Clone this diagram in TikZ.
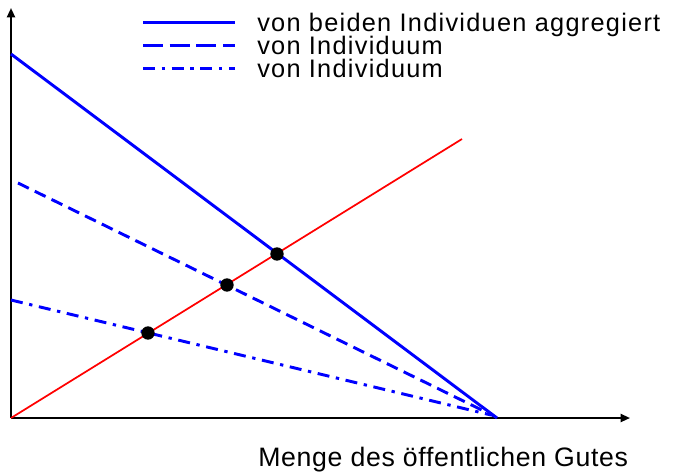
\documentclass[tikz,border=0pt]{standalone}
\usepackage{fontspec}
\setmainfont{Liberation Sans}
\newfontfamily\legfont[LetterSpace=5]{Liberation Sans}
\newfontfamily\axfont[LetterSpace=2.5]{Liberation Sans}
\usetikzlibrary{arrows.meta}
\tikzset{ax/.style={line width=1.5pt,-{Triangle[length=7pt,width=6pt]}},tot/.style={blue,line width=2.2pt},ind/.style={blue,line width=2.2pt,dash pattern=on 9pt off 5pt},indl/.style={ind,dash pattern=on 15pt off 5pt},indb/.style={blue,line width=2.2pt,dash pattern=on 9pt off 5pt on 2.5pt off 5pt},cost/.style={red,line width=1.3pt},pt/.style={circle,fill=black,inner sep=0pt,minimum size=10pt},leg/.style={anchor=base west,inner sep=0pt,font=\legfont\fontsize{19}{21}\selectfont}}

\begin{document}
\begin{tikzpicture}[x=0.75pt,y=-0.75pt]
\useasboundingbox(0,0)rectangle(673,472);
% Achsen
\coordinate(O)at(11,418);\coordinate(Y)at(11,8);\coordinate(X)at(630,418);
\draw[ax](O)--(Y);\draw[ax](O)--(X);
\node[anchor=base west,inner sep=0pt,font=\axfont\fontsize{20}{22}\selectfont](xl)at(258,466){Menge des öffentlichen Gutes};
% Kurven
\coordinate(T1)at(11,54);\coordinate(T2)at(497,418);
\coordinate(A1)at(18,183);\coordinate(A2)at(494,416);
\coordinate(B1)at(11,300);\coordinate(B2)at(491,415);
\coordinate(K)at(462,139);
\draw[cost](O)--(K);
\draw[tot](T1)--(T2);\draw[ind](A1)--(A2);\draw[indb](B1)--(B2);
\node[pt](P1)at(148,333){};\node[pt](P2)at(227,285){};\node[pt](P3)at(277,254){};
% Legende
\foreach\s/\y/\t/\n in{tot/22.5/von beiden Individuen aggregiert/1,indl/45.5/von Individuum/2,indb/68.5/von Individuum/3}{
\coordinate(L\n a)at(143,\y);\coordinate(L\n b)at(235,\y);
\draw[\s,line width=2.6pt](L\n a)--(L\n b);
\node[leg](T\n)at(257,\y+8.5){\t};}
\end{tikzpicture}
\end{document}
